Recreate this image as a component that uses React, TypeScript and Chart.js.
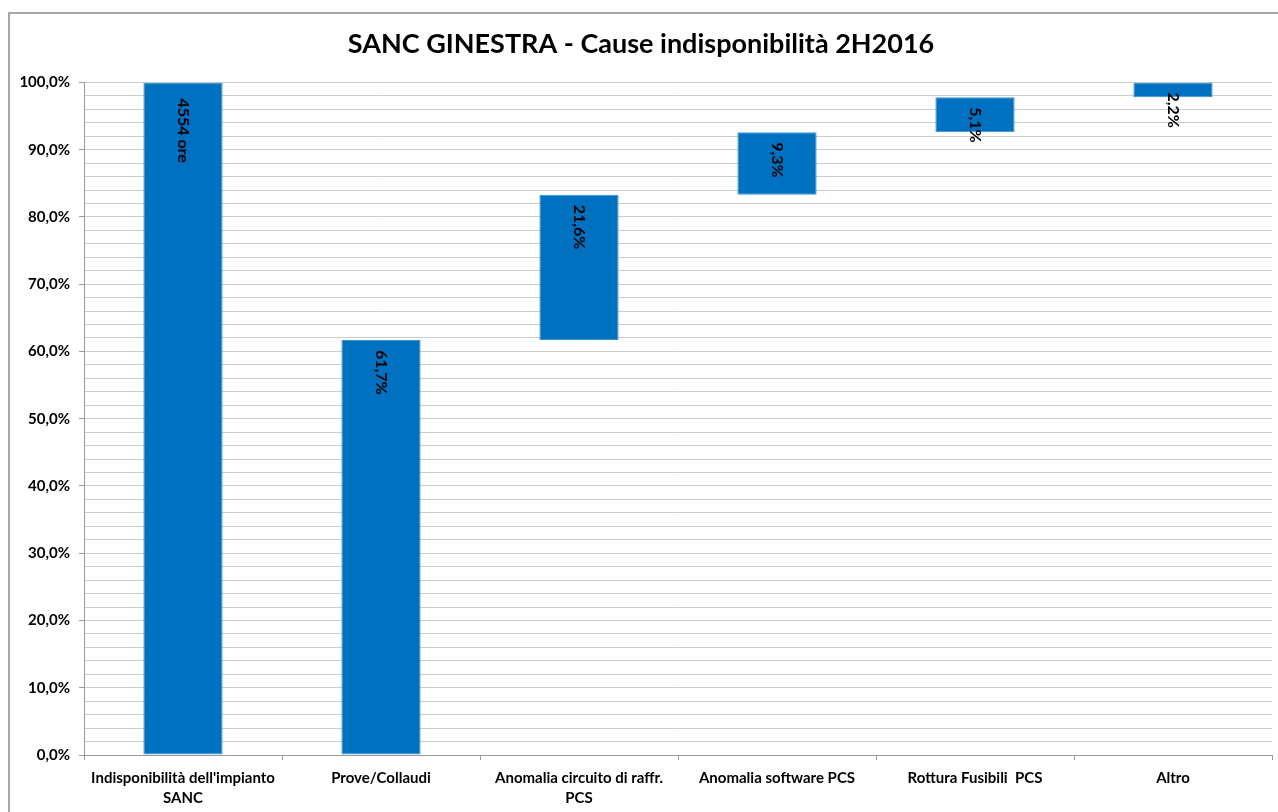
import React, { useEffect, useRef } from "react";
import { Chart, registerables } from "chart.js";

Chart.register(...registerables);

const TITLE = "SANC GINESTRA - Cause indisponibilità 2H2016";
const categories: (string | string[])[] = [
  ["Indisponibilità dell'impianto", "SANC"],
  "Prove/Collaudi",
  ["Anomalia circuito di raffr.", "PCS"],
  "Anomalia software PCS",
  "Rottura Fusibili  PCS",
  "Altro",
];
const barStarts = [0, 0, 61.7, 83.3, 92.6, 97.8];
const barEnds = [100, 61.7, 83.3, 92.6, 97.8, 100];
const barLabels = ["4554 ore", "61,7%", "21,6%", "9,3%", "5,1%", "2,2%"];
const yMin = 0;
const yMax = 100;
const yStep = 2;
const yMajor = 10;

const FONT = "Lato, Calibri, 'Liberation Sans', sans-serif";

const labelPlugin = {
  id: "barLabels",
  afterDatasetsDraw(chart: any) {
    const meta = chart.getDatasetMeta(0);
    const ctx = chart.ctx;
    ctx.save();
    ctx.fillStyle = "#000";
    ctx.font = `bold 16px ${FONT}`;
    ctx.textAlign = "left";
    ctx.textBaseline = "middle";
    meta.data.forEach((el: any, i: number) => {
      const top = Math.min(el.y, el.base);
      ctx.save();
      ctx.translate(el.x, top + (i === 0 ? 16 : 10));
      ctx.rotate(Math.PI / 2);
      ctx.fillText(barLabels[i], 0, 0);
      ctx.restore();
    });
    ctx.restore();
  },
};

export default function App() {
  const ref = useRef<HTMLCanvasElement>(null);
  useEffect(() => {
    if (!ref.current) return;
    const chart = new Chart(ref.current, {
      type: "bar",
      data: {
        labels: categories as any,
        datasets: [
          {
            data: barStarts.map((s, i) => [s, barEnds[i]]) as any,
            backgroundColor: "#0070C0",
            borderColor: "#3a8fd0",
            borderWidth: 1,
            borderSkipped: false,
            categoryPercentage: 1,
            barPercentage: 0.4,
          },
        ],
      },
      options: {
        animation: false,
        responsive: false,
        layout: { padding: { left: 0, right: 6, top: 0, bottom: 0 } },
        plugins: {
          legend: { display: false },
          tooltip: { enabled: false },
          title: {
            display: true,
            text: TITLE,
            color: "#000",
            font: { family: FONT, size: 27, weight: "bold" },
            padding: { top: 14, bottom: 22 },
          },
        },
        scales: {
          x: {
            grid: {
              drawOnChartArea: false,
              offset: true,
              tickLength: 5,
              tickColor: "#999",
            },
            border: { color: "#999", width: 1 },
            ticks: {
              color: "#000",
              font: { family: FONT, size: 15, weight: "bold", lineHeight: 1.35 },
              padding: 8,
              maxRotation: 0,
              autoSkip: false,
            },
            afterFit(scale: any) {
              scale.height = 57;
            },
          },
          y: {
            min: yMin,
            max: yMax,
            grid: {
              color: "#cccccc",
              lineWidth: 1,
              tickLength: 5,
              tickColor: (c: any) =>
                c.tick && c.tick.value % yMajor === 0 ? "#999" : "rgba(0,0,0,0)",
            },
            border: { color: "#999", width: 1 },
            ticks: {
              stepSize: yStep,
              autoSkip: false,
              color: "#000",
              font: { family: FONT, size: 15, weight: "bold" },
              padding: 9,
              callback: (v: any) =>
                Number(v) % yMajor === 0
                  ? Number(v).toFixed(1).replace(".", ",") + "%"
                  : "",
            },
            afterFit(scale: any) {
              scale.width = 74;
            },
          },
        },
      },
      plugins: [labelPlugin],
    });
    return () => chart.destroy();
  }, []);
  return (
    <div
      style={{
        position: "fixed",
        left: 8,
        top: 12,
        width: 1270,
        height: 800,
        boxSizing: "border-box",
        borderLeft: "2px solid #a6a6a6",
        borderTop: "2px solid #a6a6a6",
        background: "#fff",
      }}
    >
      <canvas ref={ref} width={1268} height={798} style={{ display: "block" }} />
    </div>
  );
}
